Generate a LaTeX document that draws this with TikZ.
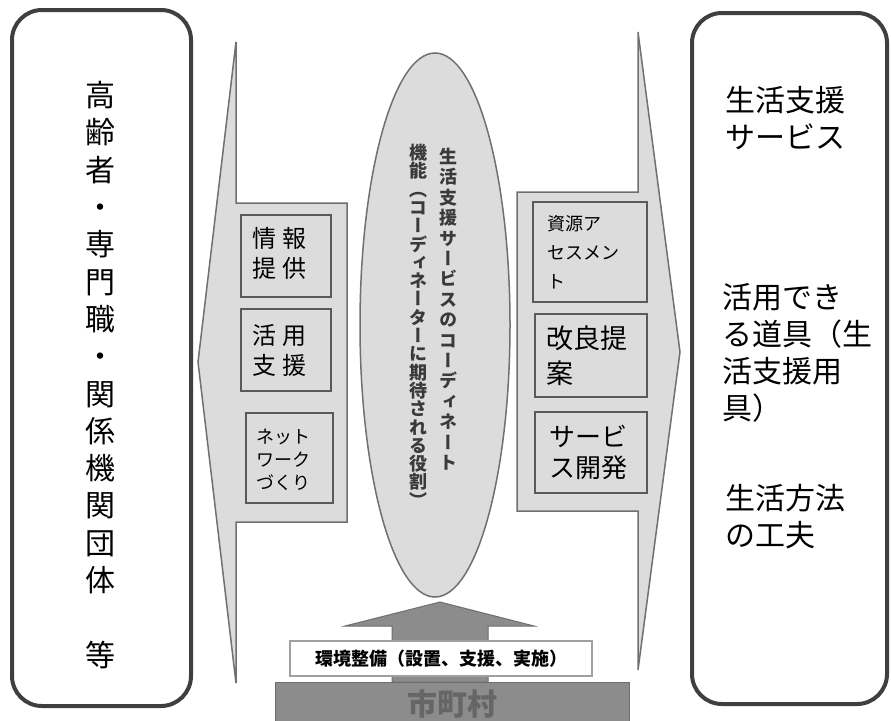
\documentclass[tikz,border=0pt]{standalone}
\usepackage{fontspec}
\setmainfont{Noto Sans CJK JP}
\newfontfamily\jpv[RawFeature=+vert]{Noto Sans CJK JP}
\usetikzlibrary{shapes.geometric}
\definecolor{boxline}{HTML}{3F3F3F}
\definecolor{lightfill}{HTML}{DCDCDC}
\definecolor{arrowline}{HTML}{707070}
\definecolor{smallline}{HTML}{5A5A5A}
\definecolor{darkfill}{HTML}{8C8C8C}
\definecolor{darkline}{HTML}{6E6E6E}
\definecolor{cityink}{HTML}{666666}
\definecolor{ovaltext}{HTML}{3A3A3A}
\definecolor{labelline}{HTML}{A0A0A0}
\begin{document}
\begin{tikzpicture}[x=1pt,y=-1pt,
  bigbox/.style={draw=boxline,line width=4pt,rounded corners=30pt,fill=white},
  bigarrow/.style={draw=arrowline,line width=1.5pt,fill=lightfill,line join=miter},
  smallbox/.style={draw=smallline,line width=2.5pt,fill=lightfill,inner sep=0pt},
  boxtext/.style={anchor=west,align=left,inner sep=0pt},
  vtext/.style={align=center,inner sep=0pt,anchor=north},
]
\useasboundingbox (0,0) rectangle (891,720);
\fill[white] (0,0) rectangle (891,720);

% outer boxes
\node[bigbox,minimum width=179pt,minimum height=696pt] (actors) at (101.5,358) {};
\node[bigbox,minimum width=195pt,minimum height=691pt] (results) at (789.5,358.5) {};

% left vertical text
\node[align=center,inner sep=0pt,font=\fontsize{30}{37.3}\selectfont] (actorstext) at (100,375)
 {高\\齢\\者\\・\\専\\門\\職\\・\\関\\係\\機\\関\\団\\体\\\phantom{等}\\等};

% right texts
\node[boxtext,font=\fontsize{30}{37}\selectfont] (svc) at (725,118.5) {生活支援\\サービス};
\node[boxtext,font=\fontsize{30}{37}\selectfont] (tools) at (722,353) {活用でき\\る道具（生\\活支援用\\具）};
\node[boxtext,font=\fontsize{30}{37}\selectfont] (way) at (725,517) {生活方法\\の工夫};

% left arrow
\draw[bigarrow] (347,203) -- (236,203) -- (236,42) -- (198,362) -- (236,683) -- (236,522) -- (347,522) -- cycle;
% right arrow
\draw[bigarrow] (517,192) -- (638,192) -- (638,32) -- (680,352) -- (638,670) -- (638,511) -- (517,511) -- cycle;

% oval
\node[ellipse,draw=arrowline,line width=1.5pt,fill=lightfill,minimum width=150pt,minimum height=544pt,inner sep=0pt] (oval) at (435,325) {};
\node[vtext,text=ovaltext,font=\jpv\fontsize{18}{20.4}\selectfont\bfseries] (ovalA) at (448,148)
 {生\\活\\支\\援\\サ\\ー\\ビ\\ス\\の\\コ\\ー\\デ\\ィ\\ネ\\ー\\ト};
\node[vtext,text=ovaltext,font=\jpv\fontsize{18}{18.3}\selectfont\bfseries] (ovalB) at (418,144)
 {機\\能\\（\\コ\\ー\\デ\\ィ\\ネ\\ー\\タ\\ー\\に\\期\\待\\さ\\れ\\る\\役\\割\\）};

% left small boxes
\node[smallbox,minimum width=90pt,minimum height=82pt] (info) at (286,256) {};
\node[boxtext,font=\fontsize{24}{30}\selectfont] (infot) at (252,253) {情\kern6pt 報\\提\kern6pt 供};
\node[smallbox,minimum width=90pt,minimum height=82pt] (use) at (286,350) {};
\node[boxtext,font=\fontsize{24}{30}\selectfont] (uset) at (252,350) {活\kern6pt 用\\支\kern6pt 援};
\node[smallbox,minimum width=87pt,minimum height=90pt] (net) at (289.5,458) {};
\node[boxtext,font=\fontsize{18}{23}\selectfont] (nett) at (256,460) {ネット\\ワーク\\づくり};

% right small boxes
\node[smallbox,minimum width=114pt,minimum height=100pt] (assess) at (590,252) {};
\node[boxtext,font=\fontsize{18}{29}\selectfont] (assesst) at (547,252) {資源ア\\セスメン\\ト};
\node[smallbox,minimum width=112pt,minimum height=83pt] (improve) at (591,355.5) {};
\node[boxtext,font=\fontsize{27}{35}\selectfont] (improvet) at (546,355.5) {改良提\\案};
\node[smallbox,minimum width=112pt,minimum height=81pt] (develop) at (591,452.5) {};
\node[boxtext,font=\fontsize{26}{31}\selectfont] (developt) at (549,452) {サービ\\ス開発};

% up arrow
\draw[fill=darkfill,draw=darkline,line width=1pt,line join=miter] (392,682) -- (392,626) -- (345,626) -- (440,602) -- (534,626) -- (488,626) -- (488,682) -- cycle;

% label
\node[draw=labelline,fill=white,line width=1.2pt,minimum width=302pt,minimum height=35pt,inner sep=0pt,font=\fontsize{18}{18}\selectfont\bfseries] (envlabel) at (441,658.5) {環境整備（設置、支援、実施）};

% municipality bar
\node[draw=darkline,fill=darkfill,line width=1pt,minimum width=354pt,minimum height=44pt,inner sep=0pt,text=cityink,font=\fontsize{30}{30}\selectfont\bfseries] (city) at (452,704) {市町村};
\end{tikzpicture}
\end{document}
